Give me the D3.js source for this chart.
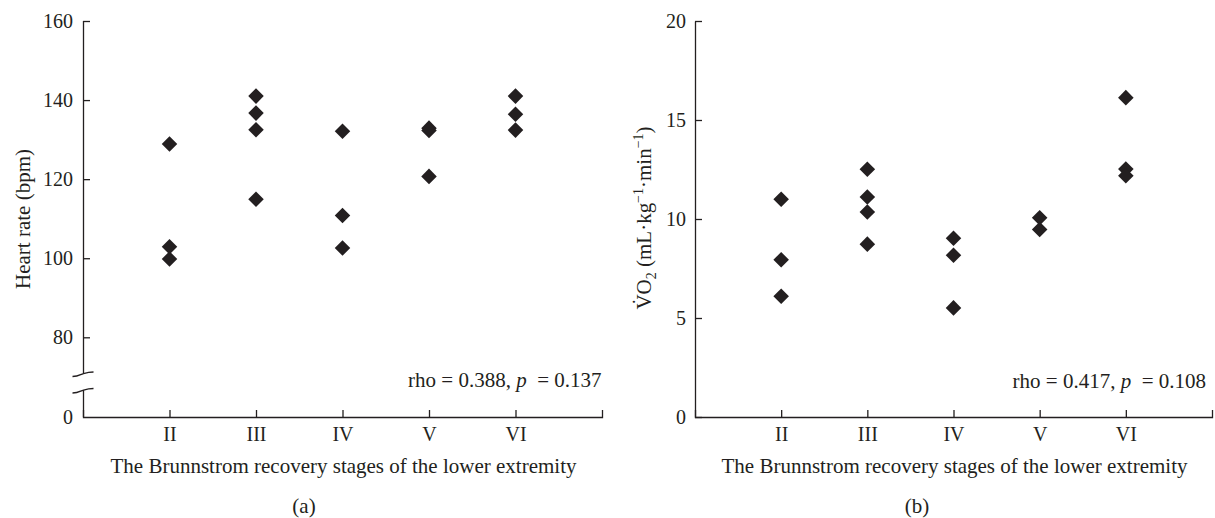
<!DOCTYPE html>
<html><head><meta charset="utf-8">
<script src="https://cdn.jsdelivr.net/npm/d3@7"></script>
<style>
body{margin:0;background:#fff}
svg text{font-family:"Liberation Serif","Times New Roman",serif;fill:#231f20}
.axis path,.axis line{stroke:#231f20;stroke-width:1.3;fill:none}
</style>
</head><body>
<svg id="c" width="1215" height="518"></svg>
<script>
// ---- data ----
const stages = ["II", "III", "IV", "V", "VI"];
const hrTicks = [80, 100, 120, 140, 160];
const vo2Ticks = [0, 5, 10, 15, 20];
const hrStages = ["II","II","II","III","III","III","III","IV","IV","IV","V","V","V","VI","VI","VI"];
const hrValues = [128.9,102.9,99.8, 141.0,136.7,132.5,114.9, 132.1,110.8,102.6, 132.9,132.3,120.7, 141.0,136.4,132.4];
const vo2Stages = ["II","II","II","III","III","III","III","IV","IV","IV","V","V","VI","VI","VI"];
const vo2Values = [11.0,7.94,6.1, 12.51,11.11,10.35,8.73, 9.03,8.17,5.51, 10.06,9.47, 16.13,12.52,12.18];
const xTitle = "The Brunnstrom recovery stages of the lower extremity";

const svg = d3.select("#c");
const ink = "#231f20";
const yTop = 21, yBot = 417;

function xScale(x0, x1){ return d3.scaleLinear().domain([0, stages.length + 1]).range([x0, x1]); }
const diamond = d3.symbol(d3.symbolSquare, 121);

function xAxis(x){
  const g = svg.append("g").attr("class","axis").attr("transform",`translate(0,${yBot})`)
    .call(d3.axisBottom(x).tickValues(d3.range(1, stages.length + 1))
      .tickFormat(i => stages[i-1]).tickSize(-7).tickSizeOuter(-7).tickPadding(9.5));
  g.selectAll("text").style("font-size","20px").attr("fill",ink);
  return g;
}

// ---------- Panel (a) ----------
const xA = xScale(83, 602);
const yA = d3.scaleLinear().domain([80, 160]).range([337.3, yTop]);
const yA0 = d3.scaleLinear().domain([0, 1]).range([yBot, 390]);
xAxis(xA);
const gyA = svg.append("g").attr("class","axis").attr("transform","translate(83,0)")
  .call(d3.axisLeft(yA).tickValues(hrTicks).tickSize(-7).tickPadding(10));
gyA.select(".domain").remove();
const gyA0 = svg.append("g").attr("class","axis").attr("transform","translate(83,0)")
  .call(d3.axisLeft(yA0).tickValues([0]).tickFormat(d3.format("d")).tickSize(0).tickPadding(10));
gyA0.select(".domain").remove();
svg.selectAll(".axis text").style("font-size","20px").attr("fill",ink);
// broken axis
const brk = svg.append("g").attr("fill","none").attr("stroke",ink).attr("stroke-width",1.3);
brk.append("line").attr("x1",83.5).attr("x2",83.5).attr("y1",yTop).attr("y2",373.5);
brk.append("line").attr("x1",83.5).attr("x2",83.5).attr("y1",390).attr("y2",yBot);
[375, 391.5].forEach(y => {
  brk.append("path").attr("d",`M72.5,${y+1.5} C79,${y+1.5} 80,${y-0.5} 83.5,${y-1.5} C87,${y-2.5} 89,${y-3} 93.5,${y-3}`);
});
svg.append("g").selectAll("path").data(hrValues).join("path")
  .attr("d", diamond).attr("fill", ink)
  .attr("transform",(d,i)=>`translate(${xA(stages.indexOf(hrStages[i])+1)},${yA(d)}) rotate(45)`);
svg.append("text").attr("transform","translate(29.5,219) rotate(-90)").attr("text-anchor","middle")
  .style("font-size","21px").text("Heart rate (bpm)");
svg.append("text").attr("x",(83+602)/2+1).attr("y",472.5).attr("text-anchor","middle")
  .style("font-size","21px").text(xTitle);
const rA = svg.append("text").attr("x",601.5).attr("y",386.5).attr("text-anchor","end").style("font-size","21px");
rA.append("tspan").text("rho = 0.388, ");
rA.append("tspan").style("font-style","italic").text("p");
rA.append("tspan").text("\u2002= 0.137");
svg.append("text").attr("x",304).attr("y",513).attr("text-anchor","middle").style("font-size","21px").text("(a)");

// ---------- Panel (b) ----------
const xB = xScale(695, 1212);
const yB = d3.scaleLinear().domain([0, 20]).range([yBot, yTop]);
xAxis(xB);
const gyB = svg.append("g").attr("class","axis").attr("transform","translate(695,0)")
  .call(d3.axisLeft(yB).tickValues(vo2Ticks).tickSize(-7).tickSizeOuter(0).tickPadding(9));
gyB.selectAll("text").style("font-size","20px").attr("fill",ink);
svg.append("g").selectAll("path").data(vo2Values).join("path")
  .attr("d", diamond).attr("fill", ink)
  .attr("transform",(d,i)=>`translate(${xB(stages.indexOf(vo2Stages[i])+1)},${yB(d)}) rotate(45)`);
const yt = svg.append("text").attr("transform","translate(651,218) rotate(-90)").attr("text-anchor","middle")
  .style("font-size","21px");
yt.append("tspan").text("V\u0307O");
yt.append("tspan").attr("dy",5).style("font-size","14px").text("2");
yt.append("tspan").attr("dy",-5).text(" (mL\u00B7kg");
yt.append("tspan").attr("dy",-8).style("font-size","14px").text("\u22121");
yt.append("tspan").attr("dy",8).text("\u00B7min");
yt.append("tspan").attr("dy",-8).style("font-size","14px").text("\u22121");
yt.append("tspan").attr("dy",8).text(")");
svg.append("text").attr("x",(695+1212)/2+1).attr("y",472.5).attr("text-anchor","middle")
  .style("font-size","21px").text(xTitle);
const rB = svg.append("text").attr("x",1206).attr("y",388).attr("text-anchor","end").style("font-size","21px");
rB.append("tspan").text("rho = 0.417, ");
rB.append("tspan").style("font-style","italic").text("p");
rB.append("tspan").text("\u2002= 0.108");
svg.append("text").attr("x",917).attr("y",513).attr("text-anchor","middle").style("font-size","21px").text("(b)");
</script>
</body></html>
